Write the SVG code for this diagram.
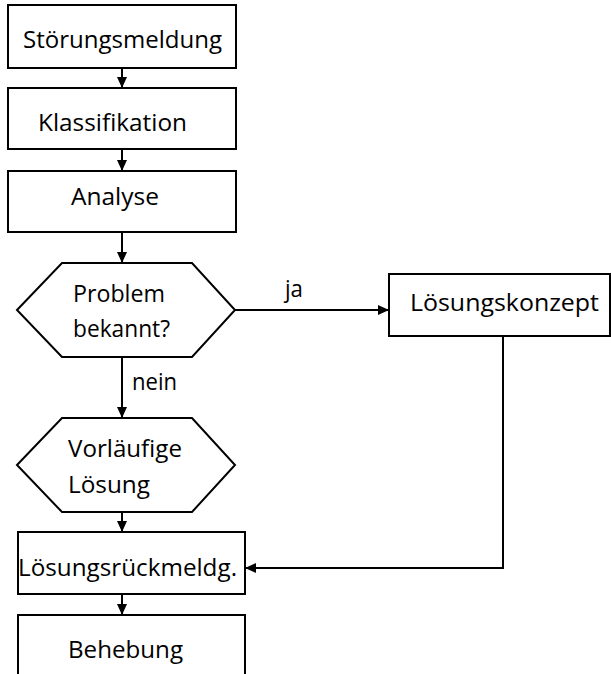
<svg xmlns="http://www.w3.org/2000/svg" width="611" height="674" viewBox="0 0 611 674">
  <style>
    .shape { fill: #ffffff; stroke: #000000; stroke-width: 2; }
    .lbl { font-family: "Open Sans", "Liberation Sans", sans-serif; font-size: 24px; fill: #000000; }
    .edge { fill: none; stroke: #000000; stroke-width: 2; }
  </style>
  <defs>
    <marker id="arrow" viewBox="0 0 11 10" refX="11" refY="5" markerWidth="11" markerHeight="10" orient="auto" markerUnits="userSpaceOnUse">
      <path d="M0,0 L11,5 L0,10 Z" fill="#000000"/>
    </marker>
  </defs>
  <rect width="611" height="674" fill="#ffffff"/>

  <!-- connectors -->
  <g id="connectors">
    <line class="edge" x1="122" y1="68" x2="122" y2="88" marker-end="url(#arrow)"/>
    <line class="edge" x1="122" y1="149" x2="122" y2="171" marker-end="url(#arrow)"/>
    <line class="edge" x1="122" y1="232" x2="122" y2="263" marker-end="url(#arrow)"/>
    <line class="edge" x1="235" y1="310" x2="389" y2="310" marker-end="url(#arrow)"/>
    <line class="edge" x1="122" y1="357" x2="122" y2="418" marker-end="url(#arrow)"/>
    <line class="edge" x1="122" y1="512" x2="122" y2="532" marker-end="url(#arrow)"/>
    <line class="edge" x1="122" y1="594" x2="122" y2="615" marker-end="url(#arrow)"/>
    <polyline class="edge" points="503,336 503,568 245,568" marker-end="url(#arrow)"/>
    <text class="lbl" x="285" y="297" textLength="18" lengthAdjust="spacingAndGlyphs">ja</text>
    <text class="lbl" x="132" y="390" textLength="45" lengthAdjust="spacingAndGlyphs">nein</text>
  </g>

  <g id="stoerungsmeldung">
    <rect class="shape" x="8" y="5" width="228" height="63"/>
    <text class="lbl" x="23" y="48" textLength="199" lengthAdjust="spacingAndGlyphs">Störungsmeldung</text>
  </g>

  <g id="klassifikation">
    <rect class="shape" x="8" y="88" width="228" height="61"/>
    <text class="lbl" x="38" y="131" textLength="149" lengthAdjust="spacingAndGlyphs">Klassifikation</text>
  </g>

  <g id="analyse">
    <rect class="shape" x="8" y="171" width="228" height="61"/>
    <text class="lbl" x="71" y="205" textLength="88" lengthAdjust="spacingAndGlyphs">Analyse</text>
  </g>

  <g id="problem-bekannt">
    <polygon class="shape" points="17,310 62,263 192,263 235,310 192,357 62,357"/>
    <text class="lbl" x="73" y="302" textLength="92" lengthAdjust="spacingAndGlyphs">Problem</text>
    <text class="lbl" x="73" y="337" textLength="97" lengthAdjust="spacingAndGlyphs">bekannt?</text>
  </g>

  <g id="loesungskonzept">
    <rect class="shape" x="389" y="274" width="221" height="62"/>
    <text class="lbl" x="410" y="311" textLength="189" lengthAdjust="spacingAndGlyphs">Lösungskonzept</text>
  </g>

  <g id="vorlaeufige-loesung">
    <polygon class="shape" points="17,465 62,418 192,418 235,465 192,512 62,512"/>
    <text class="lbl" x="68" y="457" textLength="114" lengthAdjust="spacingAndGlyphs">Vorläufige</text>
    <text class="lbl" x="68" y="493" textLength="82" lengthAdjust="spacingAndGlyphs">Lösung</text>
  </g>

  <g id="loesungsrueckmeldung">
    <rect class="shape" x="18" y="532" width="227" height="62"/>
    <text class="lbl" x="18" y="576" textLength="219" lengthAdjust="spacingAndGlyphs">Lösungsrückmeldg.</text>
  </g>

  <g id="behebung">
    <rect class="shape" x="18" y="615" width="227" height="70"/>
    <text class="lbl" x="68" y="658" textLength="115" lengthAdjust="spacingAndGlyphs">Behebung</text>
  </g>
</svg>
